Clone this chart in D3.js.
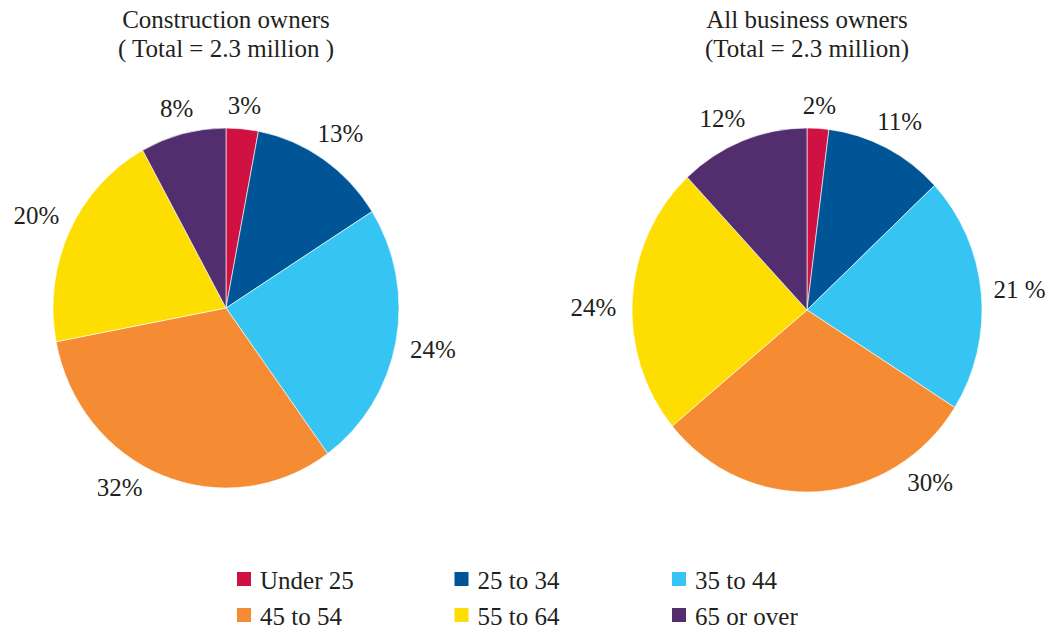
<!DOCTYPE html>
<html>
  <head>
    <meta charset="utf-8">
    <title>Business owners by age</title>
    <style>
      body { margin: 0; background: white; }
      svg text { font-family: "Liberation Serif", Tinos, "Times New Roman", Times, serif; fill: #231f20; }
      .slice { stroke: white; stroke-width: 0.6; }
    </style>
  </head>
  <body>
    <svg width="1050" height="631"></svg>
    <script src="https://cdn.jsdelivr.net/npm/d3@7"></script>
    <script type="application/javascript">
      // age groups, shared by both pies
      const ageGroups = ['Under 25', '25 to 34', '35 to 44', '45 to 54', '55 to 64', '65 or over'];
      const groupColors = ['#cf1241', '#005597', '#36c5f3', '#f58b32', '#fedd00', '#532e6f'];

      // construction owners, percent
      const constructionValues = [3, 13, 24, 32, 20, 8];
      const constructionLabels = ['3%', '13%', '24%', '32%', '20%', '8%'];
      const constructionTitle = ['Construction owners', '( Total = 2.3 million )'];

      // all business owners, percent
      const allValues = [2, 11, 21, 30, 24, 12];
      const allLabels = ['2%', '11%', '21 %', '30%', '24%', '12%'];
      const allTitle = ['All business owners', '(Total = 2.3 million)'];

      const svg = d3.select('svg');

      const color = d3.scaleOrdinal()
        .domain(ageGroups)
        .range(groupColors);

      const pie = d3.pie()
        .sort(null)
        .value(d => d.value);

      // the source pies are a touch taller than wide
      const pies = [
        {title: constructionTitle, values: constructionValues, labels: constructionLabels,
         cx: 226, cy: 308, rx: 173, ry: 180, shift: {3: 10}},
        {title: allTitle, values: allValues, labels: allLabels,
         cx: 807, cy: 310, rx: 175, ry: 182, shift: {3: -33, 4: -3, 5: -3}}
      ];

      pies.forEach(p => {
        const rows = ageGroups.map((g, i) => ({group: g, value: p.values[i], label: p.labels[i]}));
        const arcs = pie(rows);
        const arc = d3.arc().innerRadius(0).outerRadius(p.rx);
        const k = p.ry / p.rx;

        const g = svg.append('g')
          .attr('transform', `translate(${p.cx},${p.cy})`);

        g.append('g')
          .attr('transform', `scale(1,${k})`)
          .selectAll('path')
          .data(arcs)
          .enter()
            .append('path')
            .attr('class', 'slice')
            .attr('d', arc)
            .style('fill', d => color(d.data.group));

        // labels just outside the rim, a bit further out at the sides (text is wider than tall)
        const mid = (d, i) => (d.startAngle + d.endAngle) / 2 + (p.shift[i] || 0) * Math.PI / 180;
        const labelR = a => p.rx * (1.12 + 0.1 * Math.abs(Math.sin(a)));
        g.selectAll('.pct')
          .data(arcs)
          .enter()
            .append('text')
            .attr('class', 'pct')
            .attr('text-anchor', 'middle')
            .attr('dy', '0.35em')
            .style('font-size', '25px')
            .attr('x', (d, i) => labelR(mid(d, i)) * Math.sin(mid(d, i)))
            .attr('y', (d, i) => -labelR(mid(d, i)) * Math.cos(mid(d, i)) * k)
            .text(d => d.data.label);

        svg.append('text')
          .attr('x', p.cx)
          .attr('y', 28)
          .attr('text-anchor', 'middle')
          .style('font-size', '25px')
          .selectAll('tspan')
          .data(p.title)
          .enter()
            .append('tspan')
            .attr('x', p.cx)
            .attr('dy', (d, i) => i ? 29 : 0)
            .text(d => d);
      });

      // legend, three columns by two rows
      const legendX = d3.scalePoint().domain([0, 1, 2]).range([237, 672]);
      const legendY = d3.scalePoint().domain([0, 1]).range([572, 608]);

      const items = svg.append('g')
        .selectAll('g')
        .data(ageGroups)
        .enter()
          .append('g')
          .attr('transform', (d, i) => `translate(${legendX(i % 3)},${legendY(Math.floor(i / 3))})`);

      items.append('rect')
        .attr('width', 14)
        .attr('height', 14)
        .style('fill', d => color(d));

      items.append('text')
        .attr('x', 23)
        .attr('y', 16.5)
        .style('font-size', '25px')
        .text(d => d);
    </script>
  </body>
</html>
